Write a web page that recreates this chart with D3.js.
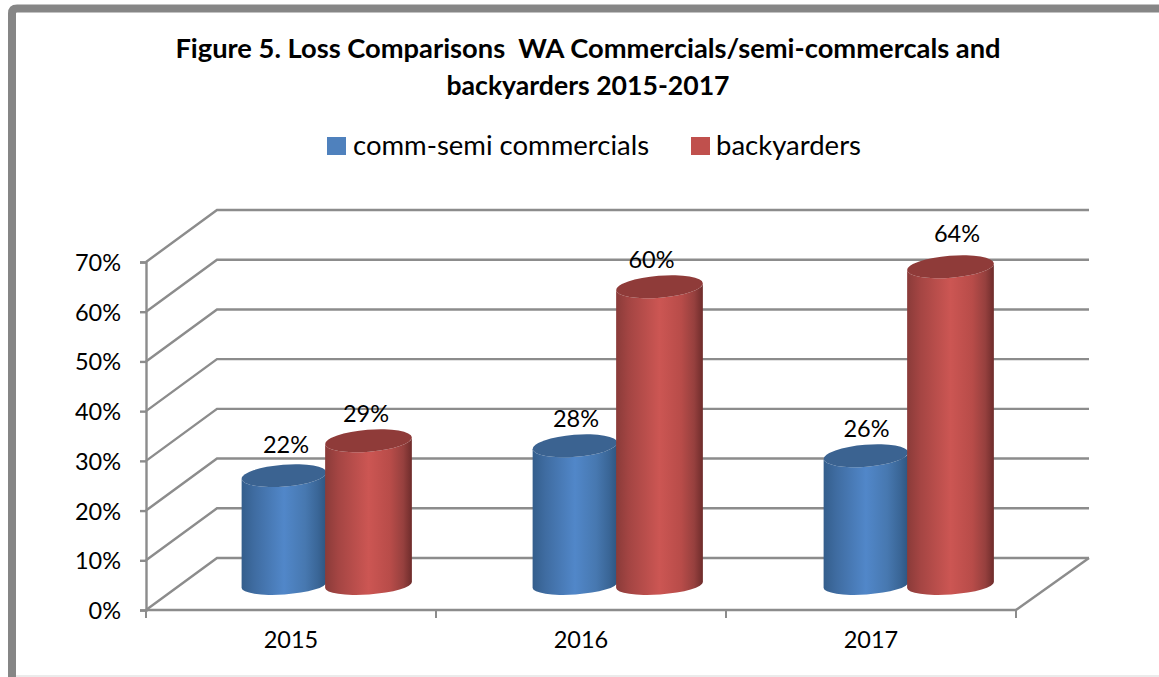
<!DOCTYPE html>
<html><head><meta charset="utf-8">
<script src="https://cdnjs.cloudflare.com/ajax/libs/d3/7.8.5/d3.min.js"></script>
<style>html,body{margin:0;padding:0;background:#fff}svg{display:block}text{font-family:Lato,"Open Sans",sans-serif;fill:#000;white-space:pre}</style>
</head><body><svg id="c" width="1159" height="677"></svg>
<script>
const titleLines = ["Figure 5. Loss Comparisons  WA Commercials/semi-commercals and", "backyarders 2015-2017"];
const categories = ["2015", "2016", "2017"];
const seriesNames = ["comm-semi commercials", "backyarders"];
const commSemi = [22, 28, 26];
const backyarders = [29, 60, 64];
const yTicks = [0, 10, 20, 30, 40, 50, 60, 70];

const svg = d3.select("#c");
const grid = "#8c8c8c";
// frame
svg.append("path").attr("d","M1159,8.5H17Q12,8.5 12,13.5V677").attr("fill","none").attr("stroke","#868686").attr("stroke-width",8);
svg.append("line").attr("x1",16).attr("x2",1159).attr("y1",676).attr("y2",676).attr("stroke","#e4e4e4").attr("stroke-width",1.5);

// title
const titleSizes = [27.3, 26.6];
svg.selectAll("text.title").data(titleLines).join("text").attr("class","title")
  .attr("x",588).attr("y",(d,i)=>58+i*37).attr("text-anchor","middle")
  .attr("font-size",(d,i)=>titleSizes[i]).attr("font-weight",700).text(d=>d);

// legend
const colors = {blue:{base:"#4f81bd",top:"#3b6391",stops:["#345e8c","#3f6ca1","#5187c9","#4778b0","#3a6697","#2e5580"]},
                red:{base:"#c0504d",top:"#8f3b39",stops:["#8a3b39","#a44543","#cc5653","#b84c49","#96403e","#6e2c2b"]}};
const stopOffsets = [0, 0.15, 0.5, 0.75, 0.9, 1];
const legendX = [327, 691];
const legendGap = [26, 25];
const swatch = [colors.blue.base, colors.red.base];
seriesNames.forEach((n,i)=>{
  svg.append("rect").attr("x",legendX[i]).attr("y",137).attr("width",19).attr("height",18).attr("fill",swatch[i]);
  svg.append("text").attr("x",legendX[i]+legendGap[i]).attr("y",155).attr("font-size",27.5).text(n);
});

// scales
const y = d3.scaleLinear().domain([0,70]).range([610,262]);
const x = d3.scaleBand().domain(categories).range([146,1016]);
const depth = {dx:71, dy:-52};
const ppu = (y(0)-y(70))/70;

// walls
const gg = svg.append("g").attr("fill","none").attr("stroke",grid).attr("stroke-width",2.4);
yTicks.forEach(t=>{
  const p = d3.path();
  p.moveTo(146,y(t)); p.lineTo(146+depth.dx,y(t)+depth.dy); p.lineTo(1089,y(t)+depth.dy);
  gg.append("path").attr("d",p.toString());
});
const p2 = d3.path();
p2.moveTo(1016,y(0)); p2.lineTo(1089,y(0)+depth.dy);
gg.append("path").attr("d",p2.toString());

// axes
const ay = svg.append("g").attr("transform","translate(146,1)").call(d3.axisLeft(y).tickValues(yTicks).tickFormat(d=>d+"%").tickSize(6).tickPadding(19));
ay.selectAll("line").attr("transform","translate(0,-1)");
ay.select("path").attr("transform","translate(0,-1)");
ay.selectAll("line,path").attr("stroke",grid).attr("stroke-width",2.4);
ay.selectAll("text").attr("font-size",23.5).attr("font-family",null);
const ax = svg.append("g").attr("transform","translate(0,610)").call(d3.axisBottom(x).tickSize(0).tickPadding(21));
ax.select("path").remove();
ax.selectAll("line").remove();
ax.selectAll("text").attr("font-size",23.5).attr("font-family",null);
svg.append("line").attr("x1",146).attr("x2",1016).attr("y1",610).attr("y2",610).attr("stroke",grid).attr("stroke-width",2.4);
categories.concat([null]).forEach((c,i)=>{
  const tx = c? x(c): 1016;
  svg.append("line").attr("x1",tx).attr("x2",tx).attr("y1",610).attr("y2",618).attr("stroke",grid).attr("stroke-width",2);
});

// gradients
const defs = svg.append("defs");
Object.entries(colors).forEach(([k,c])=>{
  const g = defs.append("linearGradient").attr("id","g-"+k).attr("x1",0).attr("x2",1).attr("y1",0).attr("y2",0);
  c.stops.forEach((v,i)=>g.append("stop").attr("offset",stopOffsets[i]).attr("stop-color",v));
});

// cylinders
const ryTop = 11, ryBottom = 9.5, tiltTop = -4.6, tiltBottom = -4, floorY = 585;
const rad = a => a*Math.PI/180;
function cyl(cx, v, key, rx){
  const c = colors[key];
  const h = v*ppu, g = svg.append("g");
  const topY = floorY-h;
  const bl=[cx-rx*Math.cos(rad(tiltBottom)),floorY-rx*Math.sin(rad(tiltBottom))], br=[cx+rx*Math.cos(rad(tiltBottom)),floorY+rx*Math.sin(rad(tiltBottom))];
  const tl=[cx-rx*Math.cos(rad(tiltTop)),topY-rx*Math.sin(rad(tiltTop))], tr=[cx+rx*Math.cos(rad(tiltTop)),topY+rx*Math.sin(rad(tiltTop))];
  g.append("path").attr("fill",`url(#g-${key})`)
   .attr("d",`M${tl}L${bl}A${rx},${ryBottom} ${tiltBottom} 0 0 ${br}L${tr}A${rx},${ryTop} ${tiltTop} 0 1 ${tl}Z`);
  g.append("ellipse").attr("cx",cx).attr("cy",topY).attr("rx",rx).attr("ry",ryTop)
   .attr("transform",`rotate(${tiltTop} ${cx} ${topY})`).attr("fill",c.top);
  return topY;
}
const blueOffset = 138, redOffset = 222.5, drift = 1;
const labelNudgeBlue = [[2,-4],[1,0],[0.5,0]];
const labelNudgeRed = [[-2.5,0],[-8,0],[6.5,-6]];
const labels = [];
categories.forEach((c,i)=>{
  const bx = x(c)+blueOffset+i*drift, rxx = x(c)+redOffset+i*drift;
  const t1 = cyl(bx,commSemi[i],"blue",42.5);
  const t2 = cyl(rxx,backyarders[i],"red",43.5);
  labels.push({t:commSemi[i]+"%",x:bx+labelNudgeBlue[i][0],y:t1-27+labelNudgeBlue[i][1]});
  labels.push({t:backyarders[i]+"%",x:rxx+labelNudgeRed[i][0],y:t2-27+labelNudgeRed[i][1]});
});
svg.selectAll("text.lab").data(labels).join("text").attr("class","lab")
  .attr("x",d=>d.x).attr("y",d=>d.y).attr("dy","0.35em").attr("text-anchor","middle")
  .attr("font-size",23.5).text(d=>d.t);
</script></body></html>
